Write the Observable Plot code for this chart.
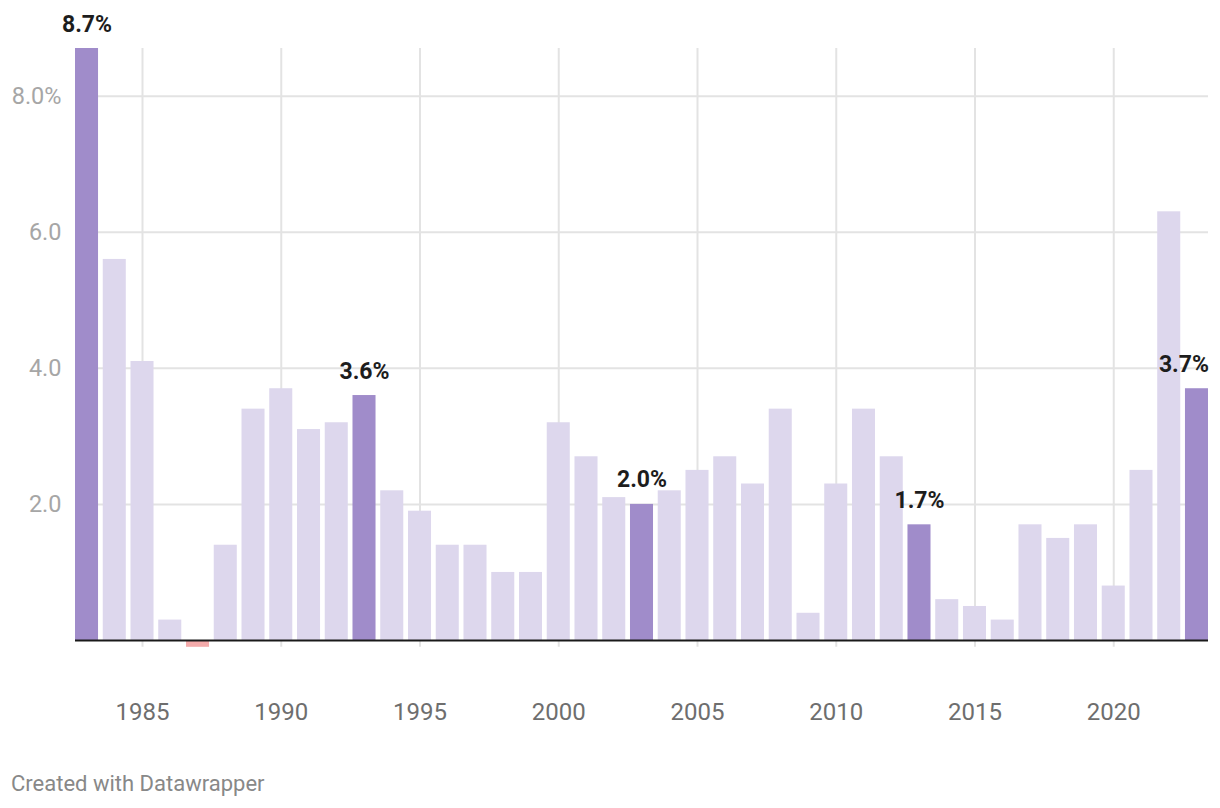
<!DOCTYPE html>
<html>
<head>
<meta charset="utf-8">
<script src="https://cdn.jsdelivr.net/npm/d3@7"></script>
<script src="https://cdn.jsdelivr.net/npm/@observablehq/plot@0.6"></script>
<style>
  html, body { margin: 0; padding: 0; background: #fff; }
  body { width: 1220px; height: 808px; position: relative; font-family: Roboto, "Noto Sans", sans-serif; }
  #footer { position: absolute; left: 11px; top: 771px; font-size: 22px; line-height: 26px; color: #888; font-family: Roboto, sans-serif; }
</style>
</head>
<body>
<div id="chart"></div>
<div id="footer">Created with Datawrapper</div>
<script>
const years = d3.range(1983, 2024);
const values = [8.7, 5.6, 4.1, 0.3, -0.1, 1.4, 3.4, 3.7, 3.1, 3.2, 3.6, 2.2, 1.9, 1.4, 1.4, 1.0, 1.0, 3.2, 2.7, 2.1, 2.0, 2.2, 2.5, 2.7, 2.3, 3.4, 0.4, 2.3, 3.4, 2.7, 1.7, 0.6, 0.5, 0.3, 1.7, 1.5, 1.7, 0.8, 2.5, 6.3, 3.7];
const highlighted = [1983, 1993, 2003, 2013, 2023];
const xTicks = [1985, 1990, 1995, 2000, 2005, 2010, 2015, 2020];
const yTicks = [2, 4, 6, 8];

const data = years.map((year, i) => ({
  year,
  value: values[i],
  kind: values[i] < 0 ? "neg" : highlighted.includes(year) ? "hi" : "base"
}));
const labels = data.filter(d => d.kind === "hi");
const lastYear = years[years.length - 1];

const labelStyle = {
  x: "year", y: "value",
  text: d => d.value.toFixed(1) + "%",
  lineAnchor: "bottom", dy: -17,
  fontSize: 23, fontWeight: "bold", fill: "#1d1d1d"
};

const chart = Plot.plot({
  width: 1220,
  height: 750,
  marginLeft: 75,
  marginRight: 12,
  marginTop: 48,
  marginBottom: 110,
  style: { fontFamily: "Roboto, sans-serif", background: "#fff" },
  x: { type: "band", domain: years, paddingInner: 0.17, paddingOuter: 0, label: null },
  y: { domain: [0, 8.7], label: null },
  color: { domain: ["base", "hi", "neg"], range: ["#ddd7ed", "#a08cca", "#f4abab"] },
  marks: [
    Plot.gridY(yTicks, { stroke: "#e3e3e3", strokeOpacity: 1, strokeWidth: 2 }),
    Plot.ruleX(xTicks, { x: d => d, y1: -0.1, y2: 8.7, stroke: "#e3e3e3", strokeWidth: 2 }),
    Plot.axisY(yTicks, {
      tickSize: 0, tickPadding: 14, fontSize: 23.5, fill: "#a6a6a6", label: null,
      tickFormat: d => d === 8 ? "8.0%" : d.toFixed(1)
    }),
    Plot.axisX(xTicks, { tickSize: 0, tickPadding: 62, fontSize: 24, fill: "#6e6e6e", label: null, tickFormat: d => String(d) }),
    Plot.barY(data, { x: "year", y: "value", fill: "kind" }),
    Plot.ruleY([0], { stroke: "#1a1a1a", strokeWidth: 2 }),
    Plot.text(labels.filter(d => d.year !== lastYear), { ...labelStyle, textAnchor: "middle" }),
    Plot.text(labels.filter(d => d.year === lastYear), { ...labelStyle, textAnchor: "end", dx: 12 })
  ]
});
document.getElementById("chart").appendChild(chart);
</script>
</body>
</html>
